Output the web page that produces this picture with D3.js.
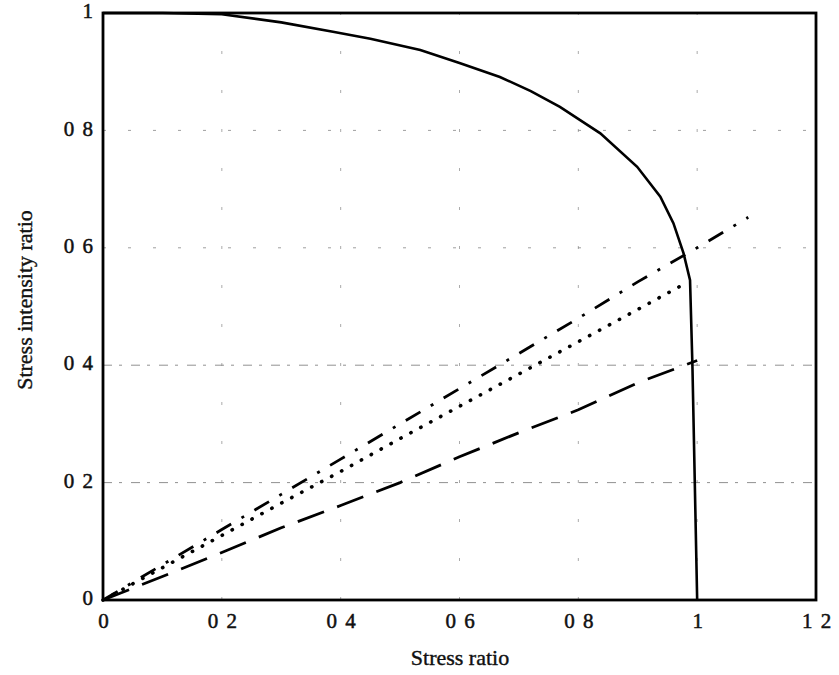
<!DOCTYPE html>
<html>
<head>
<meta charset="utf-8">
<script src="https://cdn.jsdelivr.net/npm/d3@7"></script>
<style>
  html, body { margin: 0; padding: 0; background: #fff; }
  svg { display: block; }
  text { font-family: "Liberation Serif", "DejaVu Serif", serif; fill: #111; }
</style>
</head>
<body>
<svg id="chart" width="839" height="675"></svg>
<script>
// ---- data ----
const xTickValues = [0, 0.2, 0.4, 0.6, 0.8, 1.0, 1.2];
const xTickLabels = ["0", "0 2", "0 4", "0 6", "0 8", "1", "1 2"];
const yTickValues = [0, 0.2, 0.4, 0.6, 0.8, 1.0];
const yTickLabels = ["0", "0 2", "0 4", "0 6", "0 8", "1"];

const solidX = [0, 0.1, 0.2, 0.3, 0.387, 0.45, 0.534, 0.6, 0.668, 0.72, 0.769, 0.837, 0.899, 0.938, 0.96, 0.977, 0.988, 0.992, 0.996, 1.0];
const solidY = [1, 1.0, 0.998, 0.984, 0.968, 0.956, 0.937, 0.915, 0.891, 0.867, 0.84, 0.795, 0.738, 0.687, 0.642, 0.591, 0.545, 0.4, 0.2, 0];

const dashDotX = [0, 0.1, 0.2, 0.3, 0.4, 0.5, 0.6, 0.7, 0.8, 0.9, 1.0, 1.086];
const dashDotY = [0, 0.06, 0.12, 0.18, 0.24, 0.30, 0.36, 0.42, 0.48, 0.542, 0.60, 0.652];

const dottedX = [0, 0.1, 0.2, 0.3, 0.4, 0.5, 0.6, 0.7, 0.8, 0.9, 0.985];
const dottedY = [0, 0.055, 0.11, 0.165, 0.219, 0.275, 0.33, 0.385, 0.44, 0.495, 0.542];

const longDashX = [0, 0.1, 0.2, 0.3, 0.4, 0.5, 0.6, 0.7, 0.8, 0.9, 1.0];
const longDashY = [0, 0.04, 0.081, 0.123, 0.161, 0.2, 0.244, 0.285, 0.324, 0.37, 0.408];

const xTitle = "Stress ratio";
const yTitle = "Stress intensity ratio";

// ---- layout ----
const W = 839, H = 675;
const margin = { left: 103, top: 13, right: 23, bottom: 75 };
const svg = d3.select("#chart");
const x = d3.scaleLinear().domain([0, 1.2]).range([margin.left, W - margin.right]);
const y = d3.scaleLinear().domain([0, 1]).range([H - margin.bottom, margin.top]);

// gridlines
const grid = svg.append("g");
grid.selectAll("line.h").data(yTickValues.slice(1, -1)).join("line")
  .attr("x1", x(0)).attr("x2", x(1.2))
  .attr("y1", d => y(d)).attr("y2", d => y(d))
  .attr("stroke", "#777").attr("stroke-width", 1)
  .attr("stroke-dasharray", d => d < 0.5 ? "9,7,3,9" : "3,22")
  .attr("opacity", d => d < 0.5 ? 0.8 : 0.7);
grid.selectAll("line.v").data(xTickValues.slice(1, -1)).join("line")
  .attr("x1", d => x(d)).attr("x2", d => x(d))
  .attr("y1", y(0)).attr("y2", y(1))
  .attr("stroke", "#888").attr("stroke-width", 1)
  .attr("stroke-dasharray", "3,36")
  .attr("opacity", 0.7);

// axes (labels only, frame drawn separately)
function styleTickText(sel) {
  sel.attr("font-size", 21).attr("font-family", "Liberation Serif")
    .attr("fill", "#111").attr("stroke", "#111").attr("stroke-width", 0.5)
    .style("word-spacing", "3px");
}
const xAxis = d3.axisBottom(x).tickValues(xTickValues)
  .tickFormat((d, i) => xTickLabels[i]).tickSize(0).tickPadding(13);
const gx = svg.append("g").attr("transform", `translate(0,${y(0)})`).call(xAxis);
gx.select(".domain").remove();
gx.selectAll("text").call(styleTickText).attr("dy", "0.72em");

const yAxis = d3.axisLeft(y).tickValues(yTickValues)
  .tickFormat((d, i) => yTickLabels[i]).tickSize(0).tickPadding(10);
const gy = svg.append("g").attr("transform", `translate(${x(0)},0)`).call(yAxis);
gy.select(".domain").remove();
gy.selectAll("text").call(styleTickText).attr("dy", "0.22em");

// frame
svg.append("rect")
  .attr("x", x(0)).attr("y", y(1))
  .attr("width", x(1.2) - x(0)).attr("height", y(0) - y(1))
  .attr("fill", "none").attr("stroke", "#000").attr("stroke-width", 2.8);

// curves
const line = d3.line().x(d => x(d[0])).y(d => y(d[1]));
function series(xs, ys) { return xs.map((v, i) => [v, ys[i]]); }

svg.append("path").datum(series(longDashX, longDashY)).attr("d", line)
  .attr("fill", "none").attr("stroke", "#000").attr("stroke-width", 2.8)
  .attr("stroke-dasharray", "28,14");

svg.append("path").datum(series(dottedX, dottedY)).attr("d", line)
  .attr("fill", "none").attr("stroke", "#000").attr("stroke-width", 3.6)
  .attr("stroke-linecap", "round").attr("stroke-dasharray", "0.3,11");

svg.append("path").datum(series(dashDotX, dashDotY)).attr("d", line)
  .attr("fill", "none").attr("stroke", "#000").attr("stroke-width", 2.8)
  .attr("stroke-dasharray", "17,12,3,12");

svg.append("path").datum(series(solidX, solidY)).attr("d", line)
  .attr("fill", "none").attr("stroke", "#000").attr("stroke-width", 2.6);

// titles
svg.append("text").attr("x", 460).attr("y", 665).attr("text-anchor", "middle")
  .attr("font-size", 22).attr("stroke", "#111").attr("stroke-width", 0.4).text(xTitle);
svg.append("text").attr("transform", `translate(32,300) rotate(-90)`)
  .attr("text-anchor", "middle").attr("font-size", 22)
  .attr("stroke", "#111").attr("stroke-width", 0.4).text(yTitle);
</script>
</body>
</html>
